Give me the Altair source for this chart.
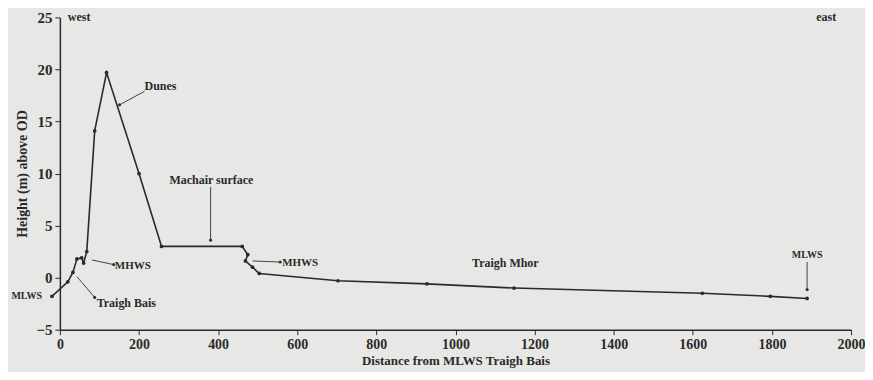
import altair as alt
import pandas as pd

# profile data
dist = [-20, 20, 33, 43, 55, 60, 68, 88, 118, 200, 257, 461, 475, 469, 487, 504, 703, 928, 1148, 1624, 1796, 1889]
height = [-1.8, -0.4, 0.5, 1.8, 1.9, 1.4, 2.5, 14.1, 19.7, 10.0, 3.0, 3.0, 2.2, 1.6, 1.0, 0.4, -0.3, -0.6, -1.0, -1.5, -1.8, -2.0]

# labels
lab_text = ["west", "east", "Dunes", "Machair surface", "MHWS", "Traigh Bais", "MHWS", "Traigh Mhor", "MLWS", "MLWS"]
lab_x = [20, 1912, 214, 383, 139, 93, 562, 1042, 1889, -45]
lab_y = [25.0, 25.0, 18.4, 9.4, 1.15, -2.4, 1.45, 1.45, 2.2, -1.8]
lab_size = [12, 12, 12, 12, 11, 12, 11, 12, 10, 10]
lab_align = ["left", "left", "left", "center", "left", "left", "left", "left", "center", "right"]

# leader lines
ld_x1 = [214, 381, 81, 43, 487, 1889]
ld_y1 = [17.9, 8.7, 1.7, 0.1, 1.6, 1.5]
ld_x2 = [151, 381, 136, 88, 557, 1889]
ld_y2 = [16.6, 3.6, 1.25, -1.9, 1.5, -1.15]

yticks = [-5, -2.5, 0, 2.5, 5, 7.5, 10, 12.5, 15, 17.5, 20, 22.5, 25]
xticks = list(range(0, 2001, 100))

prof = pd.DataFrame({"d": dist, "h": height, "o": list(range(len(dist)))})
labs = pd.DataFrame({"t": lab_text, "x": lab_x, "y": lab_y, "s": lab_size, "a": lab_align})
leads = pd.DataFrame({"x1": ld_x1, "y1": ld_y1, "x2": ld_x2, "y2": ld_y2})

FONT = "Liberation Serif"
INK = "#2a2a2a"

xs = alt.Scale(domain=[0, 2000], nice=False)
ys = alt.Scale(domain=[-5, 25], nice=False)

xax = alt.Axis(values=xticks, labelExpr="datum.value % 200 == 0 ? datum.label : ''",
               grid=False, title="Distance from MLWS Traigh Bais", format="d", labelFlush=False,
               labelFont=FONT, labelFontSize=14, labelFontWeight="bold", labelColor=INK,
               titleFont=FONT, titleFontSize=13, titleFontWeight="bold", titleColor=INK,
               domainColor=INK, domainWidth=1.5, tickColor=INK, tickSize=5, labelPadding=3, titlePadding=3)
yax = alt.Axis(values=yticks, labelExpr="datum.value % 5 == 0 ? datum.label : ''",
               grid=False, title="Height (m) above OD", labelFlush=False,
               labelFont=FONT, labelFontSize=15, labelFontWeight="bold", labelColor=INK,
               titleFont=FONT, titleFontSize=14, titleFontWeight="bold", titleColor=INK,
               domainColor=INK, domainWidth=1.5, tickColor=INK, tickSize=5, labelPadding=3, titlePadding=6)

base = alt.Chart(prof)
line = base.mark_line(color=INK, strokeWidth=1.6, clip=False).encode(
    x=alt.X("d:Q", scale=xs, axis=xax),
    y=alt.Y("h:Q", scale=ys, axis=yax),
    order="o:Q",
)
pts = base.mark_circle(color=INK, size=14, opacity=1).encode(
    x=alt.X("d:Q", scale=xs), y=alt.Y("h:Q", scale=ys)
)

rules = alt.Chart(leads).mark_rule(color="#444", strokeWidth=1).encode(
    x=alt.X("x1:Q", scale=xs), y=alt.Y("y1:Q", scale=ys),
    x2="x2:Q", y2="y2:Q",
)
heads = alt.Chart(leads).mark_circle(color="#333", size=10, opacity=1).encode(
    x=alt.X("x2:Q", scale=xs), y=alt.Y("y2:Q", scale=ys)
)

def txt(align):
    return alt.Chart(labs[labs["a"] == align]).mark_text(
        font=FONT, fontWeight="bold", color=INK, align=align, baseline="middle"
    ).encode(x=alt.X("x:Q", scale=xs), y=alt.Y("y:Q", scale=ys), text="t:N",
             size=alt.Size("s:Q", scale=None, legend=None))

chart = alt.layer(line, pts, rules, heads, txt("left"), txt("center"), txt("right")).properties(
    width=793, height=313, background="#e7e7e5",
    autosize=alt.AutoSizeParams(type="none"),
    padding={"left": 52, "top": 9, "right": 14, "bottom": 42},
).configure_view(stroke=None)

chart.save("out.html", embed_options={"renderer": "svg", "actions": False})
